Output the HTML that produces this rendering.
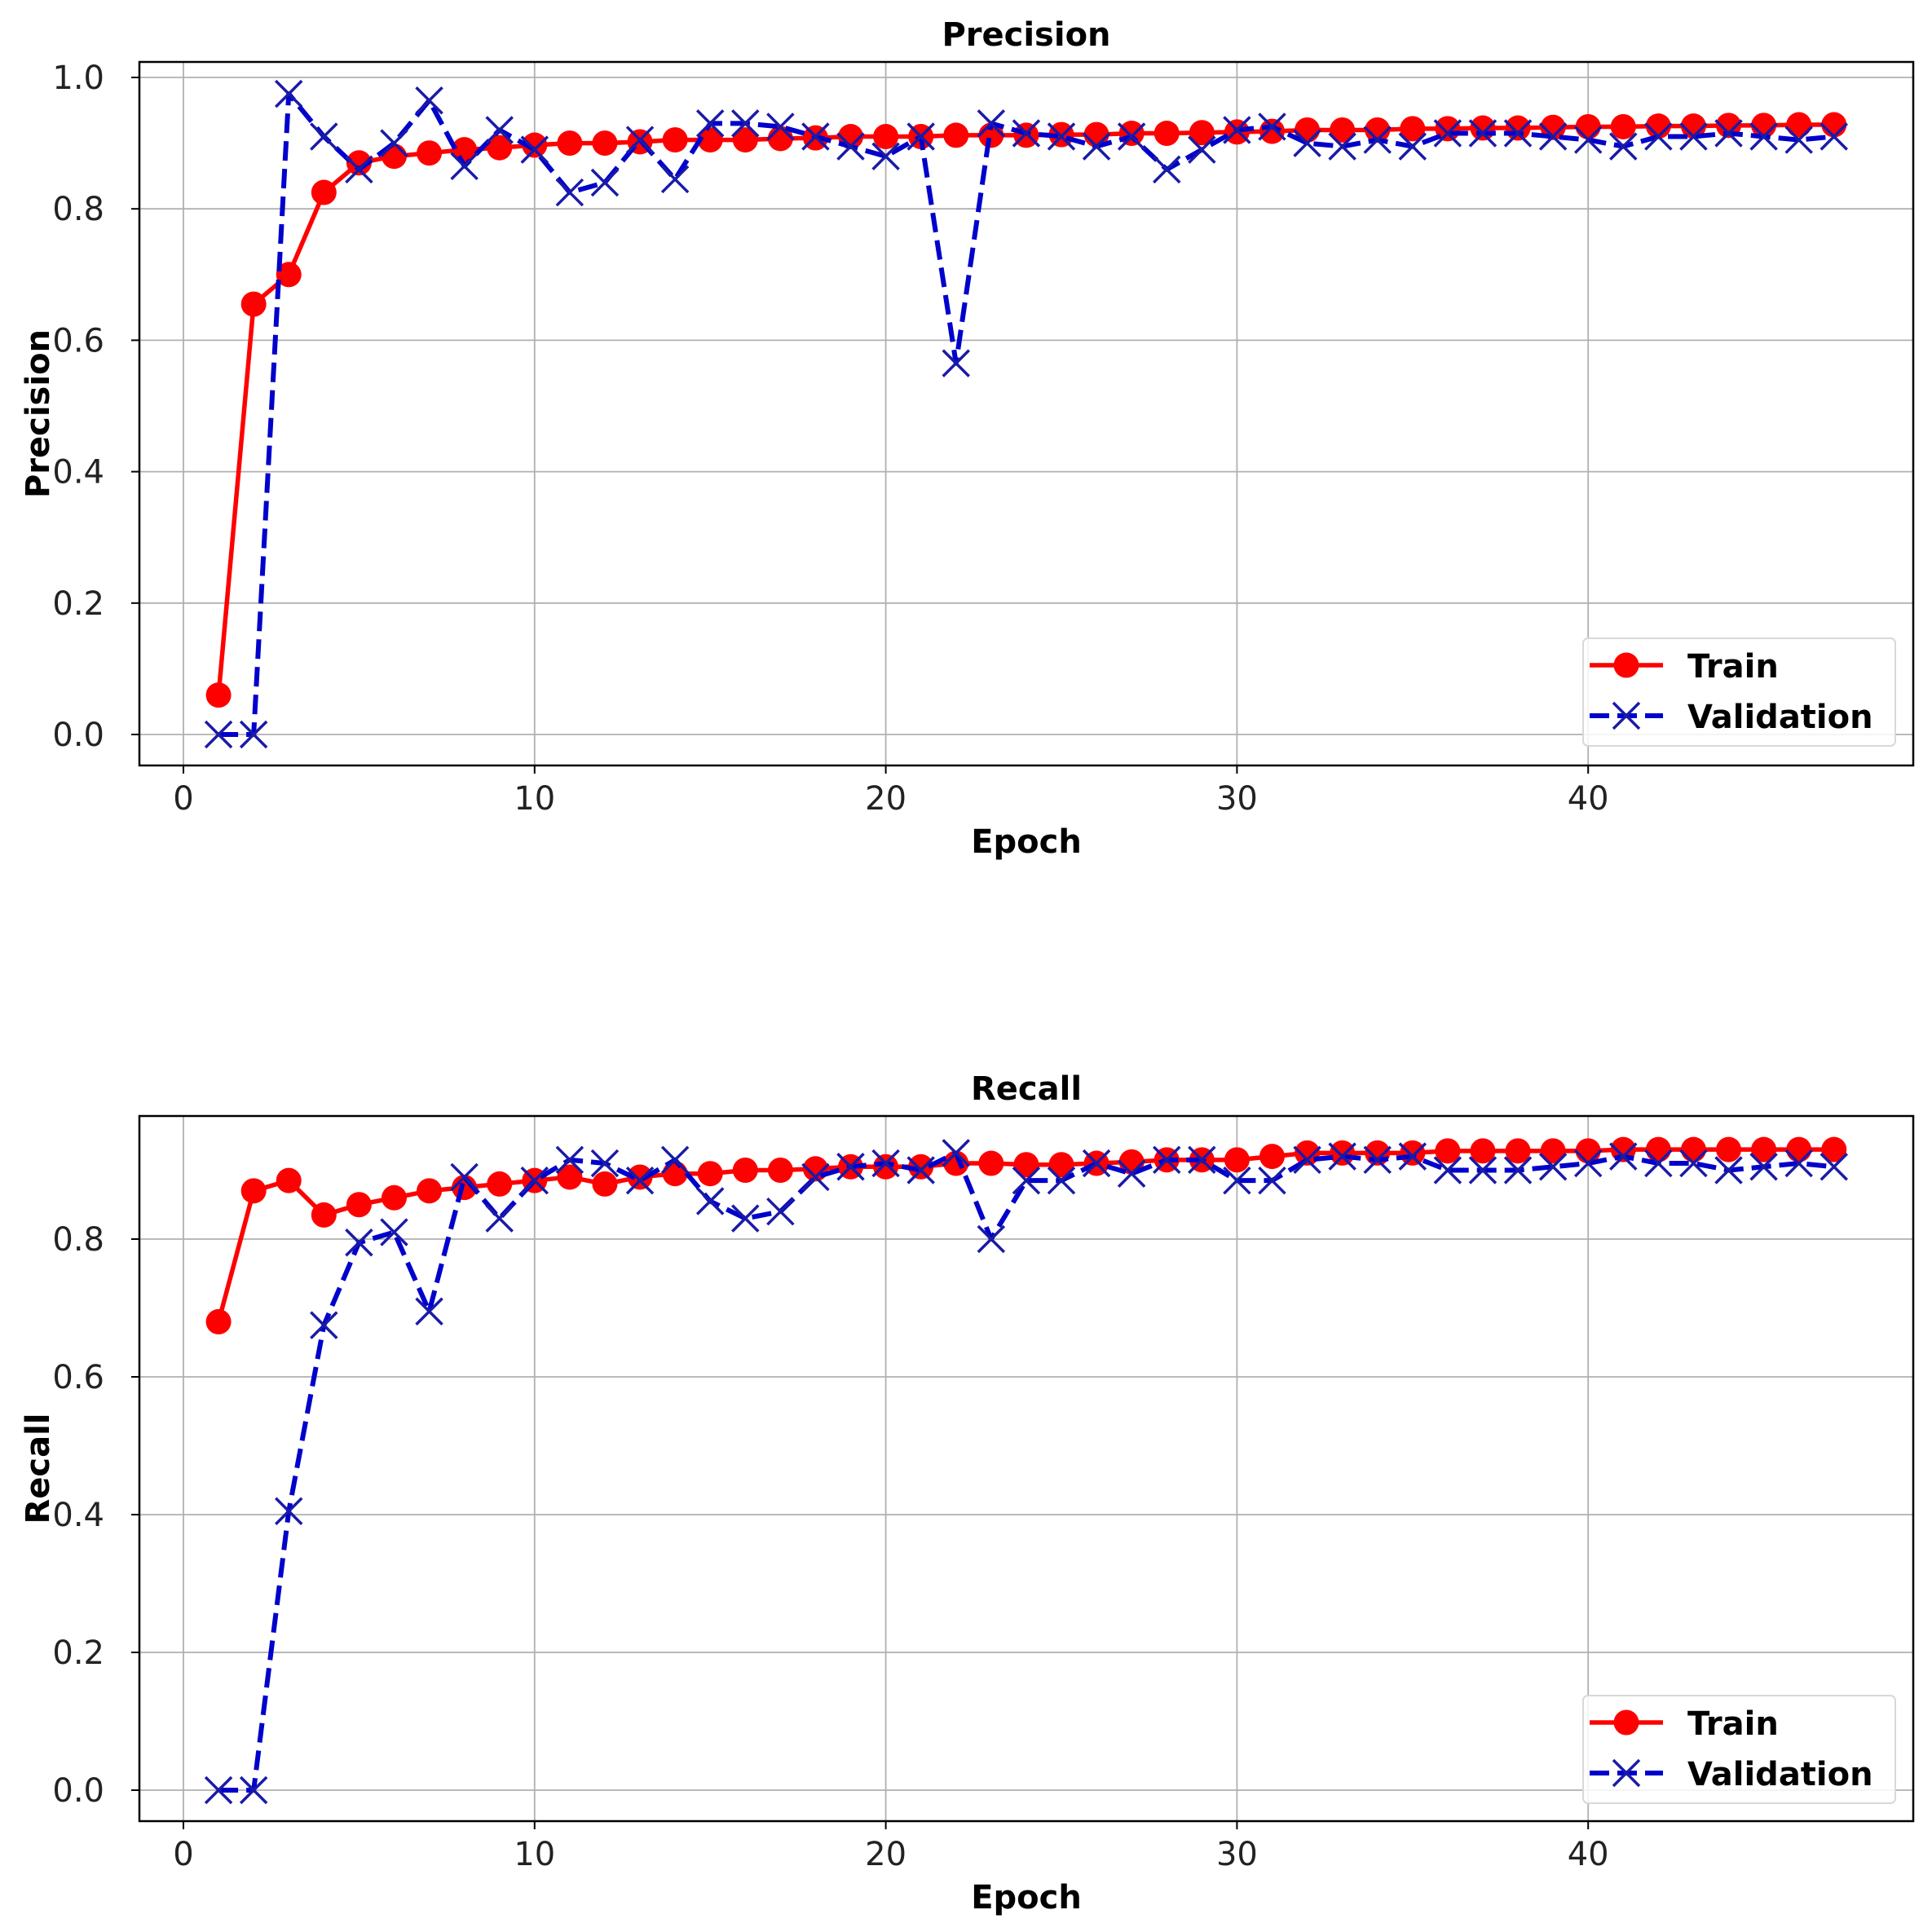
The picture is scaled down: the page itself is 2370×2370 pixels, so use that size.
<!DOCTYPE html>
<html><head><meta charset="utf-8"><style>
html,body{margin:0;padding:0;background:#fff;}
svg{display:block;font-family:"DejaVu Sans","Liberation Sans",sans-serif;}
</style></head><body>
<svg id="c" width="2370" height="2370" viewBox="0 0 2370 2370"></svg>
<script>
const epochs = Array.from({length:47},(_,i)=>i+1);
const precTrain = [0.06,0.655,0.70,0.825,0.87,0.88,0.885,0.89,0.893,0.897,0.90,0.90,0.902,0.905,0.905,0.905,0.907,0.908,0.91,0.91,0.91,0.912,0.912,0.912,0.913,0.913,0.915,0.915,0.916,0.917,0.918,0.92,0.92,0.92,0.922,0.922,0.923,0.923,0.924,0.925,0.925,0.926,0.926,0.927,0.927,0.928,0.928];
const precVal = [0,0,0.975,0.91,0.86,0.90,0.965,0.865,0.92,0.89,0.825,0.84,0.905,0.845,0.93,0.93,0.925,0.91,0.895,0.88,0.91,0.565,0.93,0.915,0.91,0.895,0.91,0.86,0.89,0.92,0.925,0.90,0.895,0.905,0.895,0.915,0.915,0.915,0.91,0.905,0.895,0.91,0.91,0.915,0.91,0.905,0.91];
const recTrain = [0.68,0.87,0.885,0.835,0.85,0.86,0.87,0.875,0.88,0.885,0.89,0.88,0.89,0.895,0.895,0.90,0.90,0.902,0.905,0.905,0.905,0.91,0.91,0.908,0.908,0.91,0.912,0.915,0.915,0.915,0.92,0.925,0.925,0.925,0.925,0.928,0.928,0.928,0.928,0.928,0.93,0.93,0.93,0.93,0.93,0.93,0.93];
const recVal = [0,0,0.405,0.675,0.795,0.81,0.695,0.89,0.83,0.885,0.915,0.91,0.885,0.915,0.855,0.83,0.84,0.89,0.905,0.91,0.90,0.925,0.80,0.885,0.885,0.91,0.895,0.915,0.915,0.885,0.885,0.915,0.92,0.915,0.92,0.90,0.90,0.90,0.905,0.91,0.92,0.91,0.91,0.90,0.905,0.91,0.905];
const xTicks = [0,10,20,30,40];
const precYTicks = [0.0,0.2,0.4,0.6,0.8,1.0];
const recYTicks = [0.0,0.2,0.4,0.6,0.8];

const NS="http://www.w3.org/2000/svg";
const svg=document.getElementById('c');
function mk(tag,attrs,parent){const e=document.createElementNS(NS,tag);for(const k in attrs)e.setAttribute(k,attrs[k]);(parent||svg).appendChild(e);return e;}

function panel(cfg){
  const g=mk('g',{});
  
  
  const L=171,R=2347,T=cfg.top,B=cfg.bottom;
  const xs=e=>225+43.08*e;
  const ys=v=>cfg.y0-cfg.yk*v;
  xTicks.forEach(t=>{const l=mk('line',{x1:xs(t),x2:xs(t),y1:T,y2:B,stroke:'#b0b0b0','stroke-width':1.8},g);
    });
  cfg.yTicks.forEach(t=>{const l=mk('line',{x1:L,x2:R,y1:ys(t),y2:ys(t),stroke:'#b0b0b0','stroke-width':1.8},g);
    });
  xTicks.forEach(t=>{mk('line',{x1:xs(t),x2:xs(t),y1:B,y2:B+10,stroke:'#000','stroke-width':2},g);
    const tx=mk('text',{x:xs(t),y:B+54,'font-size':40,'text-anchor':'middle',fill:'#222'},g);tx.textContent=t;
    });
  cfg.yTicks.forEach(t=>{mk('line',{x1:L-10,x2:L,y1:ys(t),y2:ys(t),stroke:'#000','stroke-width':2},g);
    const tx=mk('text',{x:L-43,y:ys(t)+14,'font-size':40,'text-anchor':'end',fill:'#222'},g);tx.textContent=t.toFixed(1);
    });
  const ptsT=epochs.map((e,i)=>xs(e)+','+ys(cfg.train[i])).join(' ');
  const ptsV=epochs.map((e,i)=>xs(e)+','+ys(cfg.val[i])).join(' ');
  const lt=mk('polyline',{points:ptsT,fill:'none',stroke:'#ff0000','stroke-width':5.5,'stroke-linejoin':'round'},g);
  
  epochs.forEach((e,i)=>{const c=mk('circle',{cx:xs(e),cy:ys(cfg.train[i]),r:15.5,fill:'#ff0000'},g);
    });
  const lv=mk('polyline',{points:ptsV,fill:'none',stroke:'#0000cc','stroke-width':6,'stroke-dasharray':'24 10','stroke-linejoin':'round'},g);
  
  epochs.forEach((e,i)=>{const x=xs(e),y=ys(cfg.val[i]),s=16;
    const p=mk('path',{d:`M${x-s} ${y-s}L${x+s} ${y+s}M${x-s} ${y+s}L${x+s} ${y-s}`,stroke:'#1a1aa8','stroke-width':3.5,fill:'none'},g);
    });
  const f=mk('rect',{x:L,y:T,width:R-L,height:B-T,fill:'none',stroke:'#000','stroke-width':2.5},g);
  
  const ti=mk('text',{x:1259,y:T-20,'font-size':40,'font-weight':'bold','text-anchor':'middle'},g);ti.textContent=cfg.title;
  
  const xl=mk('text',{x:1259,y:B+107,'font-size':40,'font-weight':'bold','text-anchor':'middle'},g);xl.textContent='Epoch';
  
  const yc=(T+B)/2;
  const yl=mk('text',{x:60,y:yc,'font-size':40,'font-weight':'bold','text-anchor':'middle',transform:`rotate(-90 60 ${yc})`},g);yl.textContent=cfg.title;
  
  const lg=mk('g',{},g);
  
  const ly=cfg.legTop;
  mk('rect',{x:1942,y:ly,width:383,height:132,rx:6,fill:'#fff','fill-opacity':0.85,stroke:'#d8d8d8','stroke-width':2},lg);
  const r1=ly+33,r2=ly+95;
  const e1=mk('g',{},lg);
  mk('line',{x1:1950,x2:2040,y1:r1,y2:r1,stroke:'#ff0000','stroke-width':5.5},e1);
  mk('circle',{cx:1995,cy:r1,r:15.5,fill:'#ff0000'},e1);
  const t1=mk('text',{x:2070,y:r1+15,'font-size':40,'font-weight':'bold'},e1);t1.textContent='Train';
  const e2=mk('g',{},lg);
  mk('line',{x1:1950,x2:2040,y1:r2,y2:r2,stroke:'#0000cc','stroke-width':6,'stroke-dasharray':'24 10'},e2);
  mk('path',{d:`M1979 ${r2-16}L2011 ${r2+16}M1979 ${r2+16}L2011 ${r2-16}`,stroke:'#1a1aa8','stroke-width':3.5},e2);
  const t2=mk('text',{x:2070,y:r2+15,'font-size':40,'font-weight':'bold'},e2);t2.textContent='Validation';
}
panel({name:'precision',title:'Precision',top:76,bottom:939,y0:901,yk:806,yTicks:precYTicks,train:precTrain,val:precVal,legTop:783});
panel({name:'recall',title:'Recall',top:1369,bottom:2234,y0:2196,yk:845,yTicks:recYTicks,train:recTrain,val:recVal,legTop:2080});
</script>
</body></html>
